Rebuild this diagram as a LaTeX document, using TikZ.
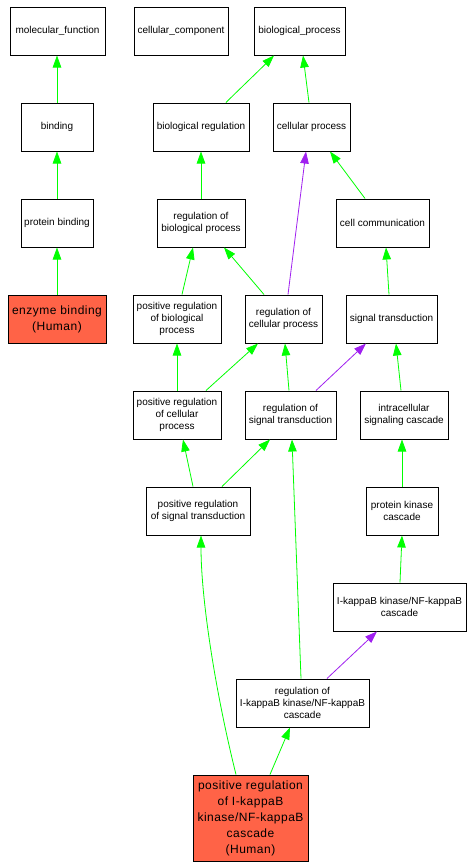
\documentclass[tikz,border=0pt]{standalone}
\usepackage{fontspec}
\setmainfont{Liberation Sans}
\newfontfamily\humanfont[LetterSpace=4]{Liberation Sans}
\usetikzlibrary{arrows.meta}
\definecolor{hum}{HTML}{FF6347}
\definecolor{gre}{HTML}{00FF00}
\definecolor{pur}{HTML}{A020F0}
\begin{document}
\begin{tikzpicture}[x=1pt,y=-1pt,
  box/.style={draw=black, line width=1pt, fill=white, inner sep=0pt, minimum height=48pt, align=center, font=\fontsize{10}{12}\selectfont},
  hbox/.style={box, fill=hum, font=\humanfont\fontsize{12}{16}\selectfont},
  ge/.style={draw=gre, line width=0.8pt, -{Triangle[length=12pt,width=8.5pt]}},
  pe/.style={draw=pur, line width=0.8pt, -{Triangle[length=12pt,width=8.5pt]}}]
\useasboundingbox (0,0) rectangle (474,868);
\fill[white] (0,0) rectangle (474,868);
% row 1
\node[box, minimum width=95pt] (mf) at (57.5,31) {molecular\_function};
\node[box, minimum width=94pt] (cc) at (181,31) {cellular\_component};
\node[box, minimum width=91pt] (bp) at (299.5,31) {biological\_process};
% row 2
\node[box, minimum width=72pt] (bind) at (57,127) {binding};
\node[box, minimum width=96pt] (breg) at (201,127) {biological regulation};
\node[box, minimum width=77pt] (cp) at (311.5,127) {cellular process};
% row 3
\node[box, minimum width=72pt] (pb) at (57,223) {protein binding};
\node[box, minimum width=88pt] (rbp) at (201,223) {regulation of\\biological process};
\node[box, minimum width=93pt] (ccom) at (382.5,223) {cell communication};
% row 4
\node[hbox, minimum width=98pt] (eb) at (57,319) {enzyme binding\\(Human)};
\node[box, minimum width=88pt] (prbp) at (177,319) {positive regulation\\of biological\\process};
\node[box, minimum width=77pt] (rcp) at (283.5,319) {regulation of\\cellular process};
\node[box, minimum width=91pt] (st) at (391.5,319) {signal transduction};
% row 5
\node[box, minimum width=88pt] (prcp) at (177,415) {positive regulation\\of cellular\\process};
\node[box, minimum width=91pt] (rst) at (290.5,415) {regulation of\\signal transduction};
\node[box, minimum width=88pt] (isc) at (404,415) {intracellular\\signaling cascade};
% row 6
\node[box, minimum width=104pt] (prst) at (198,511) {positive regulation\\of signal transduction};
\node[box, minimum width=72pt] (pkc) at (402,511) {protein kinase\\cascade};
% row 7
\node[box, minimum width=133pt] (ikb) at (399.5,607) {I-kappaB kinase/NF-kappaB\\cascade};
% row 8
\node[box, minimum width=133pt] (rikb) at (302.5,703) {regulation of\\I-kappaB kinase/NF-kappaB\\cascade};
% row 9
\node[hbox, minimum width=115pt, minimum height=86pt] (prikb) at (250.5,818) {positive regulation\\of I-kappaB\\kinase/NF-kappaB\\cascade\\(Human)};
% edges
\draw[ge] (bind.north) -- ([xshift=-0.5pt]mf.south);
\draw[ge] (pb.north) -- (bind.south);
\draw[ge] (eb.north) -- (pb.south);
\draw[ge] ([xshift=25pt]breg.north) .. controls +(10,-10) and +(-15,15) .. ([xshift=-25.5pt]bp.south);
\draw[ge] ([xshift=-2.5pt]cp.north) -- ([xshift=3.5pt]bp.south);
\draw[ge] (rbp.north) -- (breg.south);
\draw[pe] ([xshift=4.5pt]rcp.north) -- ([xshift=-5.5pt]cp.south);
\draw[ge] ([xshift=-17.5pt]ccom.north) -- ([xshift=18.5pt]cp.south);
\draw[ge] ([xshift=5pt]prbp.north) -- ([xshift=-8pt]rbp.south);
\draw[ge] ([xshift=-19.5pt]rcp.north) -- ([xshift=23pt]rbp.south);
\draw[ge] ([xshift=-2.5pt]st.north) -- ([xshift=3.5pt]ccom.south);
\draw[ge] (prcp.north) -- (prbp.south);
\draw[ge] ([xshift=29pt]prcp.north) -- ([xshift=-25.5pt]rcp.south);
\draw[ge] ([xshift=-1.5pt]rst.north) -- ([xshift=1.5pt]rcp.south);
\draw[pe] ([xshift=25.5pt]rst.north) -- ([xshift=-25.5pt]st.south);
\draw[ge] ([xshift=-3pt]isc.north) -- ([xshift=4.5pt]st.south);
\draw[ge] ([xshift=-5pt]prst.north) -- ([xshift=6pt]prcp.south);
\draw[ge] ([xshift=24pt]prst.north) -- ([xshift=-20.5pt]rst.south);
\draw[ge] (pkc.north) -- ([xshift=-2pt]isc.south);
\draw[ge] ([xshift=0.5pt]ikb.north) -- (pkc.south);
\draw[ge] ([xshift=-1.5pt]rikb.north) -- ([xshift=1.5pt]rst.south);
\draw[pe] ([xshift=24.5pt]rikb.north) -- ([xshift=-22.5pt]ikb.south);
\draw[ge] ([xshift=-14.5pt]prikb.north) .. controls +(-20,-80) and +(0,65) .. ([xshift=3pt]prst.south);
\draw[ge] ([xshift=19.5pt]prikb.north) -- ([xshift=-12.5pt]rikb.south);
\end{tikzpicture}
\end{document}
